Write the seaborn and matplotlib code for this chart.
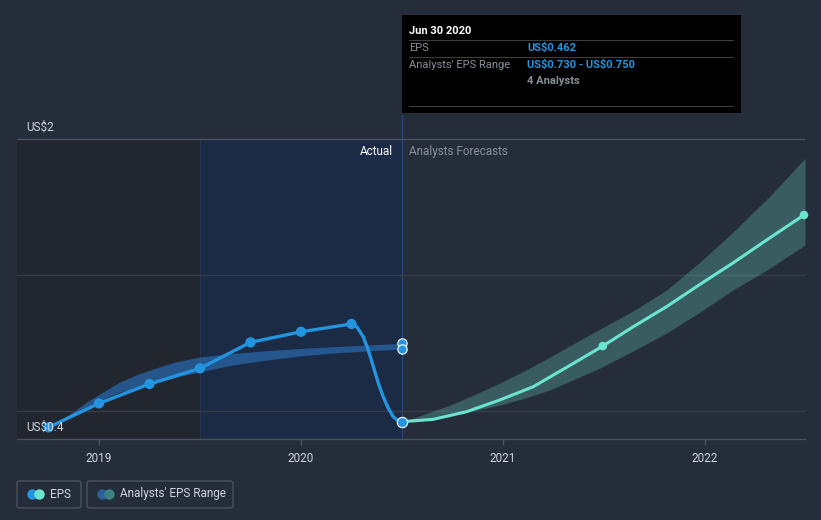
"""
EPS history vs analysts' forecasts, dark dashboard style.
"""

import pandas as pd
import matplotlib.pyplot as plt
from matplotlib.patches import FancyBboxPatch, Rectangle
from matplotlib.lines import Line2D
import seaborn as sns


# --- EPS actuals (quarter ends, fractional year)
EPS_X = [2018.75, 2019.0, 2019.25, 2019.5, 2019.75, 2020.0, 2020.25, 2020.5]
EPS_Y = [0.304, 0.445, 0.559, 0.651, 0.804, 0.866, 0.912, 0.337]

# points (steep drop after Q1 2020)
EPS_PATH_X = [2018.75, 2019.0, 2019.25, 2019.5, 2019.75, 2020.0, 2020.25,
              2020.276, 2020.308, 2020.333, 2020.358, 2020.383, 2020.407,
              2020.432, 2020.457, 2020.479, 2020.5]
EPS_PATH_Y = [0.304, 0.445, 0.559, 0.651, 0.804, 0.866, 0.912,
              0.896, 0.837, 0.759, 0.661, 0.563, 0.484,
              0.416, 0.366, 0.343, 0.337]

# --- analysts' past estimate range
PAST_X = [2018.749, 2018.856, 2018.939, 2019.02, 2019.104, 2019.183, 2019.267,
          2019.376, 2019.5, 2019.663, 2019.83, 2019.995, 2020.158, 2020.322, 2020.5]
PAST_HI = [0.304, 0.382, 0.453, 0.512, 0.571, 0.612, 0.647,
           0.688, 0.718, 0.738, 0.755, 0.768, 0.778, 0.788, 0.798]
PAST_LO = [0.304, 0.371, 0.424, 0.471, 0.512, 0.535, 0.559,
           0.597, 0.631, 0.671, 0.700, 0.724, 0.741, 0.753, 0.765]

# --- forecast line (markers at FC_MARK_X)
FC_X = [2020.5, 2020.655, 2020.82, 2020.985, 2021.15, 2021.315, 2021.494,
        2021.645, 2021.81, 2021.975, 2022.14, 2022.305, 2022.49]
FC_Y = [0.337, 0.351, 0.396, 0.465, 0.543, 0.657, 0.782,
        0.896, 1.014, 1.145, 1.272, 1.406, 1.553]
FC_MARK_X = [2021.494, 2022.49]
FC_MARK_Y = [0.782, 1.553]

# --- forecast range
BAND_X = [2020.5, 2020.614, 2020.738, 2020.861, 2020.985, 2021.109, 2021.233,
          2021.48, 2021.644, 2021.81, 2021.975, 2022.139, 2022.322, 2022.495]
BAND_HI = [0.337, 0.382, 0.435, 0.497, 0.565, 0.638, 0.718,
           0.882, 0.988, 1.112, 1.276, 1.453, 1.665, 1.886]
BAND_LO = [0.337, 0.353, 0.376, 0.403, 0.435, 0.476, 0.524,
           0.653, 0.753, 0.859, 0.982, 1.112, 1.241, 1.376]

YEAR_TICKS = [2019, 2020, 2021, 2022]
GRID_VALUES = [0.4, 1.2, 2.0]

BG = "#262d3a"
EPS_BLUE = "#2394df"
TEAL = "#6ce5d0"
TEXT = "#d0d4dc"
MUTED = "#8a8f98"
FONT = ["Roboto", "DejaVu Sans"]

sns.set_theme(style="dark")
plt.rcParams["font.family"] = FONT

W, H = 821, 520


def fx(px):
    return px / W


def fy(py):
    return 1 - py / H


fig = plt.figure(figsize=(8.21, 5.2), dpi=100, facecolor=BG)
ax = fig.add_axes([fx(17), fy(439), fx(805) - fx(17), fy(115) - fy(439)])
ax.set_facecolor(BG)

XMIN, XMAX = 2018.594, 2022.495
YMIN, YMAX = 0.2353, 2.1412
ax.set_xlim(XMIN, XMAX)
ax.set_ylim(YMIN, YMAX)

# shaded past periods (up to the US$2 line)
top_frac = (2.0 - YMIN) / (YMAX - YMIN)
ax.axvspan(XMIN, 2019.5, ymin=0, ymax=top_frac, color="#21262f", lw=0, zorder=0)
ax.axvspan(2019.5, 2020.5, ymin=0, ymax=top_frac, color="#1b2b45", lw=0, zorder=0)
ax.axvline(2019.5, ymin=0, ymax=top_frac, color="#243450", lw=0.8, zorder=0.5)
ax.axvline(2020.5, color="#264677", lw=1, zorder=0.5)

# gridlines
for v in GRID_VALUES:
    ax.axhline(v, color="#4a5160" if v == 2.0 else "#363d4a", lw=1, zorder=0.6)

# analysts' ranges
past = pd.DataFrame({"x": PAST_X, "lo": PAST_LO, "hi": PAST_HI})
band = pd.DataFrame({"x": BAND_X, "lo": BAND_LO, "hi": BAND_HI})
ax.fill_between(past["x"], past["lo"], past["hi"], color="#2861a0",
                alpha=0.8, lw=0, zorder=1)
ax.fill_between(band["x"], band["lo"], band["hi"], color=TEAL,
                alpha=0.26, lw=0, zorder=1)

# lines
eps_path = pd.DataFrame({"x": EPS_PATH_X, "y": EPS_PATH_Y})
fc = pd.DataFrame({"x": FC_X, "y": FC_Y})
sns.lineplot(data=fc, x="x", y="y", color=TEAL, lw=2.2, ax=ax,
             sort=False, zorder=2)
sns.lineplot(data=eps_path, x="x", y="y", color=EPS_BLUE, lw=2.4, ax=ax,
             sort=False, zorder=3)

# markers
eps = pd.DataFrame({"x": EPS_X, "y": EPS_Y})
sns.scatterplot(data=eps.iloc[:-1], x="x", y="y", color=EPS_BLUE, s=55,
                edgecolor="none", ax=ax, zorder=4)
sns.scatterplot(data=eps.iloc[-1:], x="x", y="y", color=EPS_BLUE, s=55,
                edgecolor="white", linewidth=0.8, ax=ax, zorder=5)
sns.scatterplot(x=[PAST_X[-1], PAST_X[-1]], y=[PAST_HI[-1], PAST_LO[-1]],
                color=EPS_BLUE, s=45, edgecolor="white", linewidth=0.8,
                ax=ax, zorder=5)
sns.scatterplot(x=FC_MARK_X, y=FC_MARK_Y, color=TEAL, s=38,
                edgecolor="none", ax=ax, zorder=4, clip_on=False)

# axes styling
for side in ["top", "left", "right"]:
    ax.spines[side].set_visible(False)
ax.spines["bottom"].set_color("#4a5160")
ax.spines["bottom"].set_linewidth(1)
ax.set_yticks([])
ax.set_xticks(YEAR_TICKS)
ax.set_xticklabels([str(y) for y in YEAR_TICKS], color=TEXT, fontsize=8.5)
ax.tick_params(axis="x", length=4, width=1, color="#4a5160", pad=5, bottom=True)
ax.set_xlabel("")
ax.set_ylabel("")
ax.grid(False)

# y labels sitting on the chart
fig.text(fx(26), fy(127), "US\\$2", color=TEXT, fontsize=8.5, va="center", ha="left")
fig.text(fx(26), fy(427), "US\\$0.4", color=TEXT, fontsize=8.5, va="center",
         ha="left", zorder=0)

ax.text(fx(393), fy(151), "Actual", transform=fig.transFigure, color="white",
        fontsize=8.5, ha="right", va="center")
ax.text(fx(409), fy(151), "Analysts Forecasts", transform=fig.transFigure,
        color=MUTED, fontsize=8.5, ha="left", va="center")

# tooltip box
fig.add_artist(Rectangle((fx(402), fy(113)), fx(741) - fx(402), fy(15) - fy(113),
                         transform=fig.transFigure, facecolor="black",
                         edgecolor="none", zorder=10))
for py in [40, 57, 106]:
    fig.add_artist(Line2D([fx(409), fx(733)], [fy(py), fy(py)],
                          transform=fig.transFigure, color="#3d3d3d",
                          lw=0.8, zorder=11))
fig.text(fx(409), fy(31), "Jun 30 2020", color="white", fontsize=8,
         fontweight="bold", va="center", zorder=12)
fig.text(fx(409), fy(48), "EPS", color=MUTED, fontsize=8, va="center", zorder=12)
fig.text(fx(527), fy(48), "US\\$0.462", color=EPS_BLUE, fontsize=8,
         fontweight="bold", va="center", zorder=12)
fig.text(fx(409), fy(65), "Analysts' EPS Range", color=MUTED, fontsize=8,
         va="center", zorder=12)
fig.text(fx(527), fy(65), "US\\$0.730 - US\\$0.750", color=EPS_BLUE, fontsize=8,
         fontweight="bold", va="center", zorder=12)
fig.text(fx(527), fy(81), "4 Analysts", color=MUTED, fontsize=8,
         fontweight="bold", va="center", zorder=12)

# legend chips
legend_items = [
    (17, 81, EPS_BLUE, TEAL, "EPS"),
    (87, 233, "#2a6196", "#3d8080", "Analysts' EPS Range"),
]
for x0, x1, c1, c2, label in legend_items:
    fig.add_artist(FancyBboxPatch((fx(x0), fy(508)), fx(x1) - fx(x0), fy(481) - fy(508),
                                  boxstyle="round,pad=0,rounding_size=0.004",
                                  transform=fig.transFigure, facecolor="none",
                                  edgecolor="#4a5160", lw=1))
    fig.add_artist(Line2D([fx(x0 + 15)], [fy(494)], marker="o", ms=7.5,
                          color=c1, mec="none", transform=fig.transFigure))
    fig.add_artist(Line2D([fx(x0 + 22)], [fy(494)], marker="o", ms=7.5,
                          color=c2, mec="none", transform=fig.transFigure))
    fig.text(fx(x0 + 33), fy(494), label, color=TEXT, fontsize=8.5, va="center")

fig.savefig("out.png", dpi=100, facecolor=BG)
plt.close(fig)
